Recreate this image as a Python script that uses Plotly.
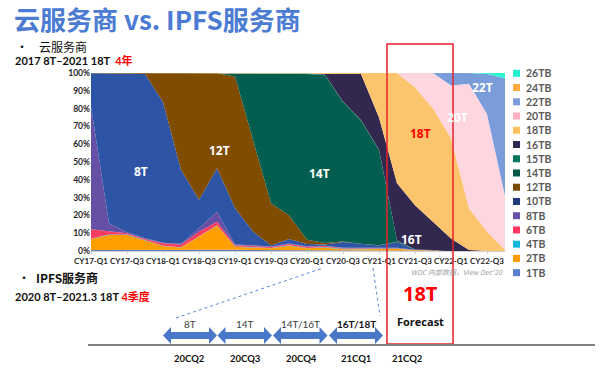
import plotly.graph_objects as go

W, H = 600, 369

quarters = ["CY17-Q1", "CY17-Q2", "CY17-Q3", "CY17-Q4", "CY18-Q1", "CY18-Q2", "CY18-Q3", "CY18-Q4",
            "CY19-Q1", "CY19-Q2", "CY19-Q3", "CY19-Q4", "CY20-Q1", "CY20-Q2", "CY20-Q3", "CY20-Q4",
            "CY21-Q1", "CY21-Q2", "CY21-Q3", "CY21-Q4", "CY22-Q1", "CY22-Q2", "CY22-Q3", "CY22-Q4"]
tick_labels = ["CY17-Q1", "CY17-Q3", "CY18-Q1", "CY18-Q3", "CY19-Q1", "CY19-Q3",
               "CY20-Q1", "CY20-Q3", "CY21-Q1", "CY21-Q3", "CY22-Q1", "CY22-Q3"]
y_ticks = [0, 10, 20, 30, 40, 50, 60, 70, 80, 90, 100]
y_tick_text = ["0%", "10%", "20%", "30%", "40%", "50%", "60%", "70%", "80%", "90%", "100%"]

# share (%) per capacity, bottom of stack first
s1TB = [0.6, 0.6, 0.6, 0.6, 0.6, 0.6, 0.7, 1.0, 0.7, 0.5, 0.4, 0.4, 0.3, 0.3, 0.3, 0.3, 0.3, 0.3, 0.2, 0.1, 0, 0, 0, 0]
s2TB = [6.1, 8.4, 8.4, 5.2, 2.2, 1.3, 7.3, 13.3, 1.7, 1.5, 1.1, 2.6, 1.2, 1.7, 0.7, 0.7, 0.7, 0.9, 0.3, 0.2, 0, 0, 0, 0]
s4TB = [0.2, 0.2, 0.2, 0.2, 0.2, 0.2, 0.2, 0.2, 0.2, 0.2, 0.2, 0.2, 0.2, 0.2, 0.2, 0.2, 0.2, 0.2, 0.1, 0.1, 0, 0, 0, 0]
s6TB = [5.3, 1.7, 0.8, 0.7, 1.3, 1.6, 2.6, 2.0, 0.6, 0.7, 0.6, 0.8, 0.7, 0.6, 0.4, 0.4, 0.3, 0.2, 0, 0, 0, 0, 0, 0]
s8TB = [68.8, 4.6, 0.5, 0.5, 0.3, 0.3, 1.9, 5.5, 0.5, 0.4, 0.3, 0.3, 0.3, 0.2, 0.2, 0.2, 0.2, 0.2, 0.1, 0.1, 0, 0, 0, 0]
s10TB = [18.5, 84.0, 89.0, 92.1, 78.9, 41.5, 16.0, 24.5, 20.5, 7.7, 0.5, 2.4, 1.2, 0.6, 3.2, 2.1, 1.4, 3.3, 0.1, 0, 0, 0, 0, 0]
s12TB = [0.1, 0.1, 0.2, 0.5, 16.3, 54.3, 71.1, 53.3, 74.0, 51.1, 23.8, 13.5, 2.4, 0.9, 0.3, 0.2, 0.2, 0.1, 0, 0, 0, 0, 0, 0]
s14TB = [0, 0, 0, 0, 0, 0, 0.1, 0.2, 2.0, 38.0, 73.2, 79.8, 93.6, 94.4, 78.5, 69.2, 53.5, 0.7, 0.1, 0, 0, 0, 0, 0]
s15TB = [0, 0, 0, 0, 0, 0, 0, 0, 0, 0, 0, 0.2, 0.2, 0.3, 0.3, 0.3, 0.3, 0.2, 0, 0, 0, 0, 0, 0]
s16TB = [0, 0, 0, 0, 0, 0, 0, 0, 0, 0, 0, 0, 0, 0.5, 15.5, 26.0, 18.0, 32.0, 24.8, 16.1, 7.0, 0.5, 0, 0]
s18TB = [0, 0, 0, 0, 0, 0, 0, 0, 0, 0, 0, 0.2, 0.3, 0.5, 0.5, 0.5, 25.0, 62.0, 66.2, 63.5, 56.5, 23.5, 11.0, 0.5]
s20TB = [0, 0, 0, 0, 0, 0, 0, 0, 0, 0, 0, 0, 0, 0, 0, 0, 0, 0, 8.0, 20.0, 29.5, 70.0, 66.0, 30.5]
s22TB = [0, 0, 0, 0, 0, 0, 0, 0, 0, 0, 0, 0, 0, 0, 0, 0, 0, 0, 0, 0, 7.0, 6.0, 22.5, 66.0]
s24TB = [0, 0, 0, 0, 0, 0, 0, 0, 0, 0, 0, 0, 0, 0, 0, 0, 0, 0, 0, 0, 0, 0, 0, 0]
s26TB = [0, 0, 0, 0, 0, 0, 0, 0, 0, 0, 0, 0, 0, 0, 0, 0, 0, 0, 0, 0, 0, 0, 0.5, 3.0]

series_names = ["1TB", "2TB", "4TB", "6TB", "8TB", "10TB", "12TB", "14TB", "15TB", "16TB",
                "18TB", "20TB", "22TB", "24TB", "26TB"]
series_values = [s1TB, s2TB, s4TB, s6TB, s8TB, s10TB, s12TB, s14TB, s15TB, s16TB,
                 s18TB, s20TB, s22TB, s24TB, s26TB]
area_colors = ["#5B7FD0", "#FFA000", "#10B8E0", "#FF3D61", "#6650A5", "#2E55A5", "#7F4C00",
               "#045E50", "#00705C", "#32284F", "#FDC46E", "#FDD6E0", "#7A9CDB", "#FFAA3C", "#2DF5D2"]
legend_colors = ["#5B7FD0", "#FF9900", "#10B8E0", "#FF3360", "#6A50A8", "#1F3A7A", "#7A4A00",
                 "#005848", "#007560", "#2F2650", "#FFC060", "#FFB0C0", "#7B9BDF", "#FFA940", "#20F0D0"]


def px(x):
    return x / W


def py(y):
    return 1 - y / H


fig = go.Figure()
for name, vals, col in zip(series_names, series_values, area_colors):
    fig.add_trace(go.Scatter(
        x=quarters, y=vals, name=name, mode="lines", stackgroup="one", groupnorm="percent",
        line=dict(width=0, color=col), fillcolor=col, showlegend=False, hoverinfo="skip"))

CJK = "Noto Sans CJK SC"
LAT = "Lato, Noto Sans CJK SC"

fig.update_layout(
    template="none",
    width=W, height=H, margin=dict(l=0, r=0, t=0, b=0, autoexpand=False),
    paper_bgcolor="white", plot_bgcolor="white", showlegend=False,
    xaxis=dict(domain=[px(91), px(505)], type="category", range=[0, 23], automargin=False,
               tickmode="array", tickvals=tick_labels, ticktext=tick_labels,
               tickfont=dict(family=LAT, size=8, color="#262626", weight="bold"),
               showline=True, linecolor="#D0D0D0", linewidth=1, ticks="outside",
               ticklen=2, tickcolor="#D0D0D0", showgrid=False, zeroline=False, tickangle=0,
               ticklabelstandoff=0),
    yaxis=dict(domain=[py(251), py(73)], range=[0, 100], automargin=False,
               tickmode="array", tickvals=y_ticks, ticktext=y_tick_text, ticks="",
               tickfont=dict(family=LAT, size=8.5, color="#262626", weight="bold"),
               showgrid=False, zeroline=False, showline=False),
)

ann = []
shapes = []

# title and text blocks
ann.append(dict(x=px(12), y=py(19), text="云服务商 vs. IPFS服务商", xanchor="left", yanchor="middle",
                font=dict(family=CJK, size=26, color="#4B7BD3", weight="bold")))
ann.append(dict(x=px(14), y=py(46), text="•", xanchor="left", yanchor="middle",
                font=dict(family=CJK, size=12, color="#111111")))
ann.append(dict(x=px(37), y=py(46), text="云服务商", xanchor="left", yanchor="middle",
                font=dict(family=CJK, size=12, color="#111111")))
ann.append(dict(x=px(13), y=py(60), text="2017 8T–2021 18T  <span style='color:#FF0000'>4年</span>",
                xanchor="left", yanchor="middle",
                font=dict(family=LAT, size=11, color="#111111", weight="bold")))
ann.append(dict(x=px(16), y=py(277), text="•", xanchor="left", yanchor="middle",
                font=dict(family=CJK, size=12, color="#111111")))
ann.append(dict(x=px(34), y=py(277), text="IPFS服务商", xanchor="left", yanchor="middle",
                font=dict(family=CJK, size=12, color="#111111", weight="bold")))
ann.append(dict(x=px(13), y=py(296), text="2020 8T–2021.3 18T <span style='color:#FF0000'>4季度</span>",
                xanchor="left", yanchor="middle",
                font=dict(family=LAT, size=11, color="#111111", weight="bold")))
ann.append(dict(x=px(505), y=py(272), text="WDC 内部数据，View Dec'20", xanchor="right", yanchor="middle",
                font=dict(family=CJK, size=7, color="#A0A0A0", style="italic")))

# in-chart labels
for txt, x, y, col in [("8T", 141, 171, "white"), ("12T", 220, 150, "white"), ("14T", 319, 173, "white"),
                       ("16T", 411, 239, "white"), ("18T", 420, 133, "#FF0000"), ("20T", 457, 117, "white"),
                       ("22T", 482, 87, "white")]:
    ann.append(dict(x=px(x), y=py(y), text=txt, xanchor="center", yanchor="middle",
                    font=dict(family="Open Sans", size=12, color=col, weight="bold")))

# custom legend (top entry = 26TB)
for k, (name, col) in enumerate(zip(series_names[::-1], legend_colors[::-1])):
    yc = 73.3 + 14.24 * k
    shapes.append(dict(type="rect", xref="paper", yref="paper", x0=px(513), x1=px(520),
                       y0=py(yc + 3.5), y1=py(yc - 3.5), fillcolor=col, line=dict(width=0)))
    ann.append(dict(x=px(524), y=py(yc), text=name, xanchor="left", yanchor="middle",
                    font=dict(family=LAT, size=10.5, color="#595959", weight="bold")))

# red forecast box
shapes.append(dict(type="rect", xref="paper", yref="paper", x0=px(387), x1=px(453),
                   y0=py(344), y1=py(44), line=dict(color="#E8202A", width=1.5), fillcolor="rgba(0,0,0,0)"))
ann.append(dict(x=px(420), y=py(293), text="18T", xanchor="center", yanchor="middle",
                font=dict(family="Open Sans", size=20, color="#FF0000", weight="bold")))
ann.append(dict(x=px(420), y=py(321), text="Forecast", xanchor="center", yanchor="middle",
                font=dict(family="Open Sans", size=11, color="#111111", weight="bold")))

# dashed connector lines
for (xa, ya, xb, yb) in [(176, 318, 323, 268), (373, 268, 380, 316)]:
    shapes.append(dict(type="line", xref="paper", yref="paper", x0=px(xa), y0=py(ya), x1=px(xb), y1=py(yb),
                       line=dict(color="#5B86D6", width=1, dash="dot")))

# timeline base line
shapes.append(dict(type="line", xref="paper", yref="paper", x0=px(88), x1=px(595), y0=py(345), y1=py(345),
                   line=dict(color="#808080", width=2)))


def arrow_path(x0, x1, yc, sh=3.5, hh=8.5, hl=8):
    pts = [(x0, yc), (x0 + hl, yc - hh), (x0 + hl, yc - sh), (x1 - hl, yc - sh), (x1 - hl, yc - hh),
           (x1, yc), (x1 - hl, yc + hh), (x1 - hl, yc + sh), (x0 + hl, yc + sh), (x0 + hl, yc + hh)]
    return "M " + " L ".join(f"{px(a):.5f},{py(b):.5f}" for a, b in pts) + " Z"


arrow_spans = [(163, 217), (217.5, 272), (273, 327.5), (329, 383)]
arrow_labels = ["8T", "14T", "14T/16T", "16T/18T"]
period_labels = ["20CQ2", "20CQ3", "20CQ4", "21CQ1", "21CQ2"]
period_x = [189, 245, 301, 356, 407]
for (a, b), lab in zip(arrow_spans, arrow_labels):
    shapes.append(dict(type="path", xref="paper", yref="paper", path=arrow_path(a, b, 335.5),
                       fillcolor="#4A78C8", line=dict(width=0)))
    bold = lab == "16T/18T"
    ann.append(dict(x=px((a + b) / 2), y=py(324), text=lab, xanchor="center", yanchor="middle",
                    font=dict(family=LAT, size=10, color="#111111" if bold else "#404040",
                              weight="bold" if bold else "normal")))
for lab, x in zip(period_labels, period_x):
    ann.append(dict(x=px(x), y=py(358), text=lab, xanchor="center", yanchor="middle",
                    font=dict(family=LAT, size=9.5, color="#111111", weight="bold")))

for a in ann:
    a.setdefault("xref", "paper")
    a.setdefault("yref", "paper")
    a.setdefault("showarrow", False)

fig.update_layout(annotations=ann, shapes=shapes)
fig.write_html("out.html", config={"displayModeBar": False},
               post_script="document.body.style.margin='0px';document.body.style.overflow='hidden';")
